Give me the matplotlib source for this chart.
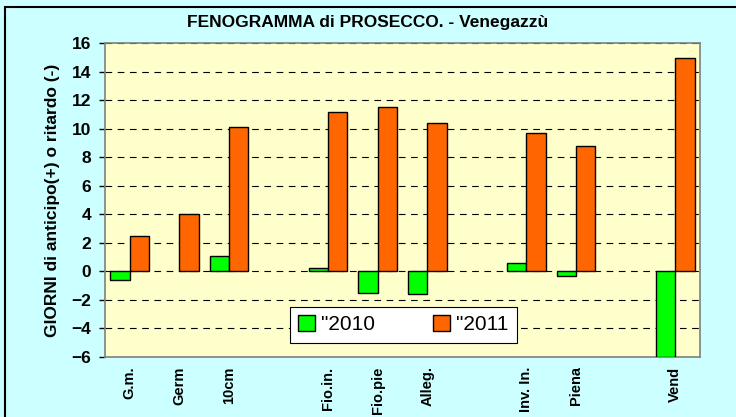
import matplotlib.pyplot as plt
import matplotlib.patches as mpatches
import numpy as np

plt.rcParams['font.family'] = ['Liberation Sans', 'DejaVu Sans']

# empty strings are the gaps between phases
categories = ['G.m.', 'Germ', '10cm', '', 'Fio.in.', 'Fio.pie', 'Alleg.', '',
              'Inv. In.', 'Piena', '', 'Vend']
y2010 = [-0.6, np.nan, 1.1, np.nan, 0.2, -1.5, -1.6, np.nan, 0.6, -0.3, np.nan, -6.0]
y2011 = [2.5, 4.0, 10.1, np.nan, 11.2, 11.5, 10.4, np.nan, 9.7, 8.8, np.nan, 15.0]

fig = plt.figure(figsize=(7.36, 4.17), dpi=100, facecolor='#CCFFFF')
ax = fig.add_axes([105 / 736, 1 - 356.7 / 417, 595 / 736, 313.4 / 417])
ax.set_facecolor('#FFFFCC')

x = np.arange(len(categories))
w = 0.39
ax.bar(x - w / 2, y2010, w, color='#00FF00', edgecolor='black', linewidth=1,
       label='"2010', zorder=3)
ax.bar(x + w / 2, y2011, w, color='#FF6600', edgecolor='black', linewidth=1,
       label='"2011', zorder=3)

ax.set_xlim(-0.5, len(categories) - 0.5)
ax.set_ylim(-6, 16)
ax.set_yticks(np.arange(-6, 17, 2))
ax.yaxis.grid(True, color='black', linestyle=(0, (6, 5)), linewidth=0.8, zorder=1)
ax.set_axisbelow(True)
ax.set_xticks(x)
ax.set_xticklabels(categories, rotation=90, fontweight='bold', fontsize=10.5)
ax.tick_params(axis='x', length=0, pad=7)
ax.tick_params(axis='y', length=4, width=1, labelsize=12.5, pad=6)
for lbl in ax.get_yticklabels():
    lbl.set_fontweight('bold')
for s in ax.spines.values():
    s.set_color('#808080')
    s.set_linewidth(1.2)

ax.set_ylabel('GIORNI di anticipo(+) o ritardo (-)', fontweight='bold',
              fontsize=12.5, labelpad=8)

fig.text(0.5, 1 - 22 / 417, 'FENOGRAMMA di PROSECCO. - Venegazzù',
         ha='center', va='center', fontweight='bold', fontsize=12.5)

leg = ax.legend(loc='lower left', bbox_to_anchor=(0.311, 0.045, 0.381, 0.137),
                mode='expand', ncol=2, fontsize=15, frameon=True, fancybox=False,
                handlelength=0.8, handleheight=0.8, handletextpad=0.3,
                borderaxespad=0, columnspacing=1.5)
leg.get_frame().set_edgecolor('black')
leg.get_frame().set_linewidth(0.8)
leg.get_frame().set_alpha(1)

# chart border (cropped on the right and bottom in the original)
fig.patches.append(mpatches.Rectangle((5 / 736, -0.1), 1.2, 1 - 7 / 417 + 0.1,
                                      transform=fig.transFigure, fill=False,
                                      edgecolor='black', linewidth=1.5))

fig.savefig('out.png', dpi=100, facecolor=fig.get_facecolor())
